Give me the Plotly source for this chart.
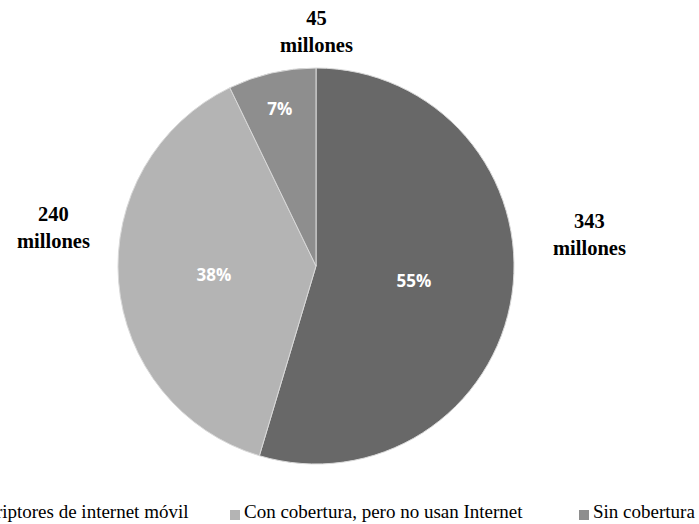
import plotly.graph_objects as go

categories = ["Suscriptores de internet móvil", "Con cobertura, pero no usan Internet", "Sin cobertura"]
values = [343, 240, 45]
value_labels = ["343<br>millones", "240<br>millones", "45<br>millones"]
colors = ["#686868", "#b4b4b4", "#8e8e8e"]

W, H = 699, 524
cx, cy, r = 316, 266, 198

fig = go.Figure(go.Pie(
    labels=categories,
    values=values,
    sort=False,
    direction="clockwise",
    rotation=0,
    marker=dict(colors=colors, line=dict(color="#d9d9d9", width=1)),
    texttemplate="%{percent:.0%}",
    textposition="inside",
    insidetextorientation="horizontal",
    textfont=dict(family="Open Sans", size=17, color="white", weight="bold"),
    domain=dict(x=[(cx - r) / W, (cx + r) / W], y=[(H - cy - r) / H, (H - cy + r) / H]),
    hoverinfo="label+value+percent",
    showlegend=False,
))

# outside value labels
label_pos = [(589, 234), (53, 228), (316, 32)]
for txt, (px, py) in zip(value_labels, label_pos):
    fig.add_annotation(
        x=px / W, y=1 - py / H, xref="paper", yref="paper",
        text=txt, showarrow=False,
        font=dict(family="Liberation Serif", size=20.5, color="black", weight="bold"),
        align="center", xanchor="center", yanchor="middle",
    )

# legend row at the bottom (first entry runs off the left edge, as in the original)
legend_text_left = [-41, 243, 592]
marker_y = 515
text_y = 511
for name, col, tx in zip(categories, colors, legend_text_left):
    fig.add_shape(
        type="rect", xref="paper", yref="paper",
        x0=(tx - 13) / W, x1=(tx - 3) / W,
        y0=1 - (marker_y + 5) / H, y1=1 - (marker_y - 5) / H,
        fillcolor=col, line=dict(width=0),
    )
    fig.add_annotation(
        x=tx / W, y=1 - text_y / H, xref="paper", yref="paper",
        text=name, showarrow=False,
        font=dict(family="Liberation Serif", size=19, color="black"),
        xanchor="left", yanchor="middle", borderpad=0,
    )

fig.update_layout(
    width=W, height=H,
    margin=dict(l=0, r=0, t=0, b=0, autoexpand=False),
    paper_bgcolor="white", plot_bgcolor="white",
    showlegend=False,
)

fig.write_html("out.html")
